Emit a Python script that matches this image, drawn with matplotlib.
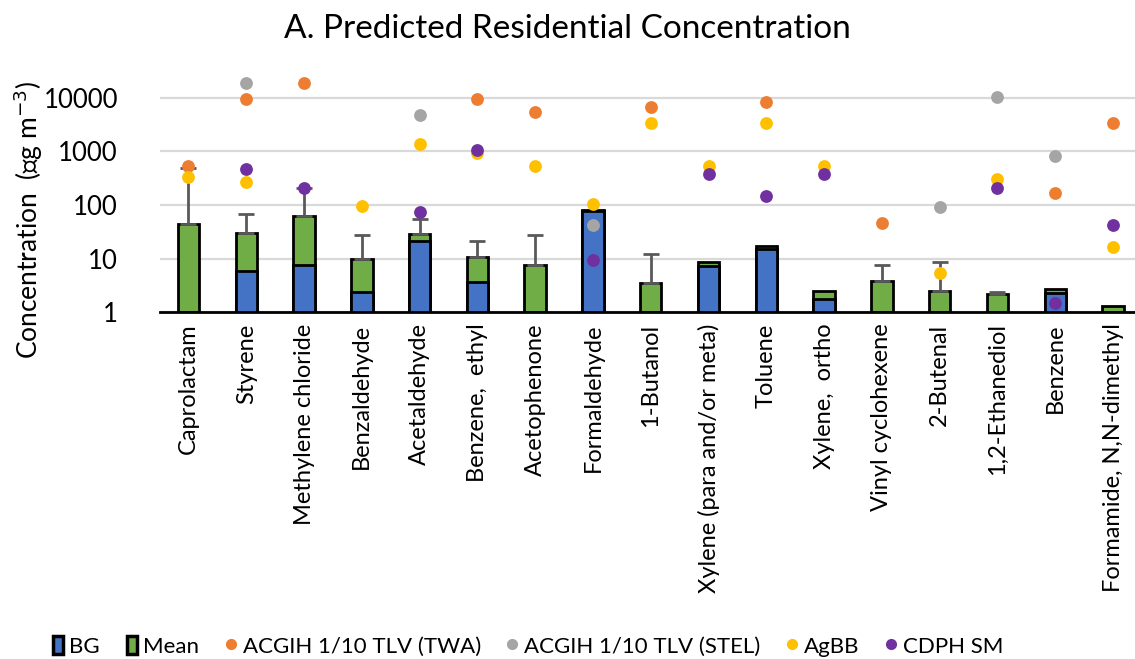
import numpy as np
import matplotlib
matplotlib.use("Agg")
import matplotlib.pyplot as plt
from matplotlib.patches import Patch
from matplotlib.lines import Line2D

plt.rcParams['font.family'] = ['Lato', 'DejaVu Sans']

nan = np.nan

# === Data ===
categories = ["Caprolactam", "Styrene", "Methylene chloride", "Benzaldehyde",
              "Acetaldehyde", "Benzene,  ethyl", "Acetophenone", "Formaldehyde",
              "1-Butanol", "Xylene (para and/or meta)", "Toluene", "Xylene,  ortho",
              "Vinyl cyclohexene", "2-Butenal", "1,2-Ethanediol", "Benzene",
              "Formamide, N,N-dimethyl"]
bg = [nan, 6.0, 7.6, 2.4, 21.4, 3.7, nan, 76, nan, 7.4, 15.2, 1.77, nan, nan, nan, 2.26, nan]
mean = [44, 30.5, 62, 10, 28.5, 10.9, 7.6, 80, 3.5, 8.8, 17.3, 2.5, 3.9, 2.46, 2.17, 2.7, 1.33]
err_top = [486, 69, 211, 28, 54, 21.7, 28, nan, 12.2, nan, nan, nan, 7.7, 8.8, 2.4, nan, nan]
twa = [537, 9500, 19000, nan, nan, 9500, 5400, nan, 6650, nan, 8500, nan, 47, nan, nan, 166, 3400]
stel = [nan, 19000, nan, nan, 4800, nan, nan, 42, nan, nan, nan, nan, nan, 93, 10500, 830, nan]
agbb = [339, 270, nan, 96, 1360, 950, 537, 106, 3400, 537, 3400, 544, nan, 5.3, 310, nan, 16.8]
cdph = [nan, 478, 211, nan, 75, 1070, nan, 9.5, nan, 380, 150, 375, nan, nan, 211, 1.47, 42.5]

C_BG = '#4472C4'
C_MEAN = '#70AD47'
C_TWA = '#ED7D31'
C_STEL = '#A5A5A5'
C_AGBB = '#FFC000'
C_CDPH = '#7030A0'

x = np.arange(len(categories))
mean_a = np.array(mean)
bg_a = np.array(bg)
err_a = np.array(err_top)

fig = plt.figure(figsize=(11.35, 6.59), dpi=100)
# plot area: 1 -> 20000 between y=312 px and y=82 px
ax = fig.add_axes([0.1406, 346.7 / 659, 0.8655, 230.7 / 659])
ax.set_yscale('log')
ax.set_ylim(1, 20000)
ax.set_xlim(-0.5, len(categories) - 0.5)

ax.yaxis.grid(True, color='#D9D9D9', linewidth=1.6, zorder=0)
ax.set_axisbelow(True)
ax.set_yticks([1, 10, 100, 1000, 10000])
ax.set_yticklabels(['1', '10', '100', '1000', '10000'])
ax.minorticks_off()
ax.tick_params(axis='y', length=0, labelsize=18.5, pad=30)
ax.tick_params(axis='x', length=0, labelsize=17, pad=8)
for s in ['top', 'right', 'left']:
    ax.spines[s].set_visible(False)
ax.spines['bottom'].set_linewidth(2)

w = 0.37
ax.bar(x, mean_a - 1, bottom=1, width=w, color=C_MEAN, edgecolor='black', linewidth=2, zorder=2)
ax.bar(x, bg_a - 1, bottom=1, width=w, color=C_BG, edgecolor='black', linewidth=2, zorder=3)

has_err = ~np.isnan(err_a)
ax.errorbar(x[has_err], mean_a[has_err],
            yerr=[np.zeros(has_err.sum()), err_a[has_err] - mean_a[has_err]],
            fmt='none', ecolor='#595959', elinewidth=2, capsize=6, capthick=2, zorder=4)

ms = 85
ax.scatter(x, twa, s=ms, color=C_TWA, zorder=5, clip_on=False, linewidths=0)
ax.scatter(x, stel, s=ms, color=C_STEL, zorder=5, clip_on=False, linewidths=0)
ax.scatter(x, agbb, s=ms, color=C_AGBB, zorder=5, clip_on=False, linewidths=0)
ax.scatter(x, cdph, s=ms, color=C_CDPH, zorder=6, clip_on=False, linewidths=0)

ax.set_xticks(x)
ax.set_xticklabels(categories, rotation=90)
ax.set_ylabel('Concentration  (\u221dg m$^{-3}$)', fontsize=19)
ax.yaxis.set_label_coords(-0.117, 0.40)

fig.suptitle('A. Predicted Residential Concentration', fontsize=24, y=0.978)

handles = [
    Patch(facecolor=C_BG, edgecolor='black', linewidth=2.5, label='BG'),
    Patch(facecolor=C_MEAN, edgecolor='black', linewidth=2.5, label='Mean'),
    Line2D([], [], marker='o', linestyle='none', color=C_TWA, markersize=7, label='ACGIH 1/10 TLV (TWA)'),
    Line2D([], [], marker='o', linestyle='none', color=C_STEL, markersize=7, label='ACGIH 1/10 TLV (STEL)'),
    Line2D([], [], marker='o', linestyle='none', color=C_AGBB, markersize=7, label='AgBB'),
    Line2D([], [], marker='o', linestyle='none', color=C_CDPH, markersize=7, label='CDPH SM'),
]
fig.legend(handles=handles, loc='lower center', bbox_to_anchor=(0.465, -0.027), ncol=6,
           frameon=False, fontsize=16, handlelength=0.45, handleheight=0.9,
           handletextpad=0.3, columnspacing=1.2)

fig.savefig('out.png', dpi=100)
